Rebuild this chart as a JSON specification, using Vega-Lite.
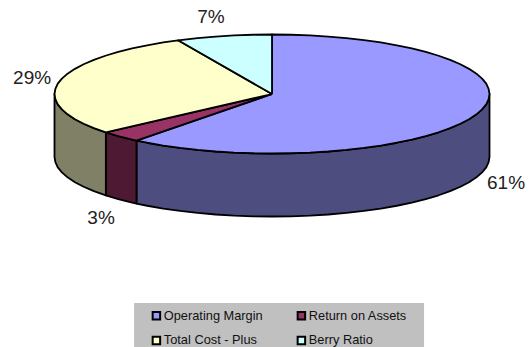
{
"$schema":"https://vega.github.io/schema/vega-lite/v6.json",
"width":531,"height":347,"padding":0,"autosize":"none","background":"white",
"config":{"view":{"stroke":null},"font":"Liberation Sans"},
"datasets":{
"panel":[{"x":-0.634,"x2":0.699,"y":-3.513,"y2":-4.252}],
"shares":[
{"slice":"Operating Margin","share":0.61,"x":1.076,"y":-1.496},
{"slice":"Return on Assets","share":0.03,"x":-0.786,"y":-2.084},
{"slice":"Total Cost - Plus","share":0.29,"x":-1.103,"y":0.269},
{"slice":"Berry Ratio","share":0.07,"x":-0.281,"y":1.294}],
"rim":[
{"slice":"Operating Margin","x":1,"y":0,"y2":-1.059},{"slice":"Operating Margin","x":0.996,"y":-0.087,"y2":-1.146},{"slice":"Operating Margin","x":0.985,"y":-0.174,"y2":-1.233},{"slice":"Operating Margin","x":0.966,"y":-0.259,"y2":-1.318},{"slice":"Operating Margin","x":0.94,"y":-0.342,"y2":-1.401},{"slice":"Operating Margin","x":0.906,"y":-0.423,"y2":-1.482},{"slice":"Operating Margin","x":0.866,"y":-0.5,"y2":-1.559},{"slice":"Operating Margin","x":0.819,"y":-0.574,"y2":-1.633},{"slice":"Operating Margin","x":0.766,"y":-0.643,"y2":-1.702},{"slice":"Operating Margin","x":0.707,"y":-0.707,"y2":-1.766},{"slice":"Operating Margin","x":0.643,"y":-0.766,"y2":-1.825},{"slice":"Operating Margin","x":0.574,"y":-0.819,"y2":-1.878},{"slice":"Operating Margin","x":0.5,"y":-0.866,"y2":-1.925},{"slice":"Operating Margin","x":0.423,"y":-0.906,"y2":-1.965},{"slice":"Operating Margin","x":0.342,"y":-0.94,"y2":-1.999},{"slice":"Operating Margin","x":0.259,"y":-0.966,"y2":-2.025},{"slice":"Operating Margin","x":0.174,"y":-0.985,"y2":-2.044},{"slice":"Operating Margin","x":0.087,"y":-0.996,"y2":-2.055},{"slice":"Operating Margin","x":0,"y":-1,"y2":-2.059},{"slice":"Operating Margin","x":-0.087,"y":-0.996,"y2":-2.055},{"slice":"Operating Margin","x":-0.174,"y":-0.985,"y2":-2.044},{"slice":"Operating Margin","x":-0.259,"y":-0.966,"y2":-2.025},{"slice":"Operating Margin","x":-0.342,"y":-0.94,"y2":-1.999},{"slice":"Operating Margin","x":-0.423,"y":-0.906,"y2":-1.965},{"slice":"Operating Margin","x":-0.5,"y":-0.866,"y2":-1.925},{"slice":"Operating Margin","x":-0.574,"y":-0.819,"y2":-1.878},{"slice":"Operating Margin","x":-0.623,"y":-0.783,"y2":-1.842},
{"slice":"Return on Assets","x":-0.623,"y":-0.783,"y2":-1.842},{"slice":"Return on Assets","x":-0.643,"y":-0.766,"y2":-1.825},{"slice":"Return on Assets","x":-0.707,"y":-0.707,"y2":-1.766},{"slice":"Return on Assets","x":-0.764,"y":-0.645,"y2":-1.704},
{"slice":"Total Cost - Plus","x":-0.764,"y":-0.645,"y2":-1.704},{"slice":"Total Cost - Plus","x":-0.819,"y":-0.574,"y2":-1.633},{"slice":"Total Cost - Plus","x":-0.866,"y":-0.5,"y2":-1.559},{"slice":"Total Cost - Plus","x":-0.906,"y":-0.423,"y2":-1.482},{"slice":"Total Cost - Plus","x":-0.94,"y":-0.342,"y2":-1.401},{"slice":"Total Cost - Plus","x":-0.966,"y":-0.259,"y2":-1.318},{"slice":"Total Cost - Plus","x":-0.985,"y":-0.174,"y2":-1.233},{"slice":"Total Cost - Plus","x":-0.996,"y":-0.087,"y2":-1.146},{"slice":"Total Cost - Plus","x":-1,"y":0,"y2":-1.059}],
"wedges":[
{"slice":"Operating Margin","i":0,"x":0,"y":0},{"slice":"Operating Margin","i":1,"x":0,"y":1},{"slice":"Operating Margin","i":2,"x":0.087,"y":0.996},{"slice":"Operating Margin","i":3,"x":0.174,"y":0.985},{"slice":"Operating Margin","i":4,"x":0.259,"y":0.966},{"slice":"Operating Margin","i":5,"x":0.342,"y":0.94},{"slice":"Operating Margin","i":6,"x":0.423,"y":0.906},{"slice":"Operating Margin","i":7,"x":0.5,"y":0.866},{"slice":"Operating Margin","i":8,"x":0.574,"y":0.819},{"slice":"Operating Margin","i":9,"x":0.643,"y":0.766},{"slice":"Operating Margin","i":10,"x":0.707,"y":0.707},{"slice":"Operating Margin","i":11,"x":0.766,"y":0.643},{"slice":"Operating Margin","i":12,"x":0.819,"y":0.574},{"slice":"Operating Margin","i":13,"x":0.866,"y":0.5},{"slice":"Operating Margin","i":14,"x":0.906,"y":0.423},{"slice":"Operating Margin","i":15,"x":0.94,"y":0.342},{"slice":"Operating Margin","i":16,"x":0.966,"y":0.259},{"slice":"Operating Margin","i":17,"x":0.985,"y":0.174},{"slice":"Operating Margin","i":18,"x":0.996,"y":0.087},{"slice":"Operating Margin","i":19,"x":1,"y":0},{"slice":"Operating Margin","i":20,"x":0.996,"y":-0.087},{"slice":"Operating Margin","i":21,"x":0.985,"y":-0.174},{"slice":"Operating Margin","i":22,"x":0.966,"y":-0.259},{"slice":"Operating Margin","i":23,"x":0.94,"y":-0.342},{"slice":"Operating Margin","i":24,"x":0.906,"y":-0.423},{"slice":"Operating Margin","i":25,"x":0.866,"y":-0.5},{"slice":"Operating Margin","i":26,"x":0.819,"y":-0.574},{"slice":"Operating Margin","i":27,"x":0.766,"y":-0.643},{"slice":"Operating Margin","i":28,"x":0.707,"y":-0.707},{"slice":"Operating Margin","i":29,"x":0.643,"y":-0.766},{"slice":"Operating Margin","i":30,"x":0.574,"y":-0.819},{"slice":"Operating Margin","i":31,"x":0.5,"y":-0.866},{"slice":"Operating Margin","i":32,"x":0.423,"y":-0.906},{"slice":"Operating Margin","i":33,"x":0.342,"y":-0.94},{"slice":"Operating Margin","i":34,"x":0.259,"y":-0.966},{"slice":"Operating Margin","i":35,"x":0.174,"y":-0.985},{"slice":"Operating Margin","i":36,"x":0.087,"y":-0.996},{"slice":"Operating Margin","i":37,"x":0,"y":-1},{"slice":"Operating Margin","i":38,"x":-0.087,"y":-0.996},{"slice":"Operating Margin","i":39,"x":-0.174,"y":-0.985},{"slice":"Operating Margin","i":40,"x":-0.259,"y":-0.966},{"slice":"Operating Margin","i":41,"x":-0.342,"y":-0.94},{"slice":"Operating Margin","i":42,"x":-0.423,"y":-0.906},{"slice":"Operating Margin","i":43,"x":-0.5,"y":-0.866},{"slice":"Operating Margin","i":44,"x":-0.574,"y":-0.819},{"slice":"Operating Margin","i":45,"x":-0.623,"y":-0.783},{"slice":"Operating Margin","i":46,"x":0,"y":0},
{"slice":"Return on Assets","i":0,"x":0,"y":0},{"slice":"Return on Assets","i":1,"x":-0.623,"y":-0.783},{"slice":"Return on Assets","i":2,"x":-0.643,"y":-0.766},{"slice":"Return on Assets","i":3,"x":-0.707,"y":-0.707},{"slice":"Return on Assets","i":4,"x":-0.764,"y":-0.645},{"slice":"Return on Assets","i":5,"x":0,"y":0},
{"slice":"Total Cost - Plus","i":0,"x":0,"y":0},{"slice":"Total Cost - Plus","i":1,"x":-0.764,"y":-0.645},{"slice":"Total Cost - Plus","i":2,"x":-0.819,"y":-0.574},{"slice":"Total Cost - Plus","i":3,"x":-0.866,"y":-0.5},{"slice":"Total Cost - Plus","i":4,"x":-0.906,"y":-0.423},{"slice":"Total Cost - Plus","i":5,"x":-0.94,"y":-0.342},{"slice":"Total Cost - Plus","i":6,"x":-0.966,"y":-0.259},{"slice":"Total Cost - Plus","i":7,"x":-0.985,"y":-0.174},{"slice":"Total Cost - Plus","i":8,"x":-0.996,"y":-0.087},{"slice":"Total Cost - Plus","i":9,"x":-1,"y":0},{"slice":"Total Cost - Plus","i":10,"x":-0.996,"y":0.087},{"slice":"Total Cost - Plus","i":11,"x":-0.985,"y":0.174},{"slice":"Total Cost - Plus","i":12,"x":-0.966,"y":0.259},{"slice":"Total Cost - Plus","i":13,"x":-0.94,"y":0.342},{"slice":"Total Cost - Plus","i":14,"x":-0.906,"y":0.423},{"slice":"Total Cost - Plus","i":15,"x":-0.866,"y":0.5},{"slice":"Total Cost - Plus","i":16,"x":-0.819,"y":0.574},{"slice":"Total Cost - Plus","i":17,"x":-0.766,"y":0.643},{"slice":"Total Cost - Plus","i":18,"x":-0.707,"y":0.707},{"slice":"Total Cost - Plus","i":19,"x":-0.643,"y":0.766},{"slice":"Total Cost - Plus","i":20,"x":-0.574,"y":0.819},{"slice":"Total Cost - Plus","i":21,"x":-0.5,"y":0.866},{"slice":"Total Cost - Plus","i":22,"x":-0.432,"y":0.902},{"slice":"Total Cost - Plus","i":23,"x":0,"y":0},
{"slice":"Berry Ratio","i":0,"x":0,"y":0},{"slice":"Berry Ratio","i":1,"x":-0.432,"y":0.902},{"slice":"Berry Ratio","i":2,"x":-0.342,"y":0.94},{"slice":"Berry Ratio","i":3,"x":-0.259,"y":0.966},{"slice":"Berry Ratio","i":4,"x":-0.174,"y":0.985},{"slice":"Berry Ratio","i":5,"x":-0.087,"y":0.996},{"slice":"Berry Ratio","i":6,"x":0,"y":1},{"slice":"Berry Ratio","i":7,"x":0,"y":0}]
},
"layer":[
{"data":{"name":"panel"},"mark":{"type":"rect","fill":"#c0c0c0"},
 "encoding":{
  "x":{"field":"x","type":"quantitative","axis":null,"scale":{"domain":[-1.2506,1.1908],"nice":false,"zero":false}},
  "x2":{"field":"x2"},
  "y":{"field":"y","type":"quantitative","axis":null,"scale":{"domain":[-4.252,1.58],"nice":false,"zero":false}},
  "y2":{"field":"y2"}}},
{"data":{"name":"rim"},"mark":{"type":"area","stroke":"black","strokeWidth":1.8,"strokeJoin":"round","opacity":1,"fillOpacity":1},
 "encoding":{
  "x":{"field":"x","type":"quantitative"},
  "y":{"field":"y","type":"quantitative"},
  "y2":{"field":"y2"},
  "fill":{"field":"slice","type":"nominal","legend":null,"scale":{"domain":["Operating Margin","Return on Assets","Total Cost - Plus"],"range":["#4d4d80","#4d1933","#808066"]}}}},
{"data":{"name":"wedges"},"mark":{"type":"line","filled":true,"stroke":"black","strokeWidth":1.8,"strokeJoin":"round"},
 "encoding":{
  "x":{"field":"x","type":"quantitative"},
  "y":{"field":"y","type":"quantitative"},
  "order":{"field":"i","type":"quantitative"},
  "color":{"field":"slice","type":"nominal",
   "scale":{"domain":["Operating Margin","Return on Assets","Total Cost - Plus","Berry Ratio"],"range":["#9999ff","#993366","#ffffcc","#ccffff"]},
   "legend":{"title":null,"orient":"none","direction":"horizontal","legendX":150,"legendY":309,"columns":2,"symbolType":"square","symbolSize":56,"symbolStrokeColor":"black","symbolStrokeWidth":2,"symbolOpacity":1,"labelFont":"Liberation Sans","labelFontSize":12.8,"labelColor":"#111","labelOffset":1,"labelLimit":200,"columnPadding":30,"rowPadding":8,"padding":0,"zindex":1}}}},
{"data":{"name":"shares"},"mark":{"type":"text","font":"Liberation Sans","fontSize":19,"baseline":"middle","align":"center","color":"#222"},
 "encoding":{
  "x":{"field":"x","type":"quantitative"},
  "y":{"field":"y","type":"quantitative"},
  "text":{"field":"share","type":"quantitative","format":".0%"}}}
],
"resolve":{"scale":{"fill":"independent","color":"independent"}}
}
